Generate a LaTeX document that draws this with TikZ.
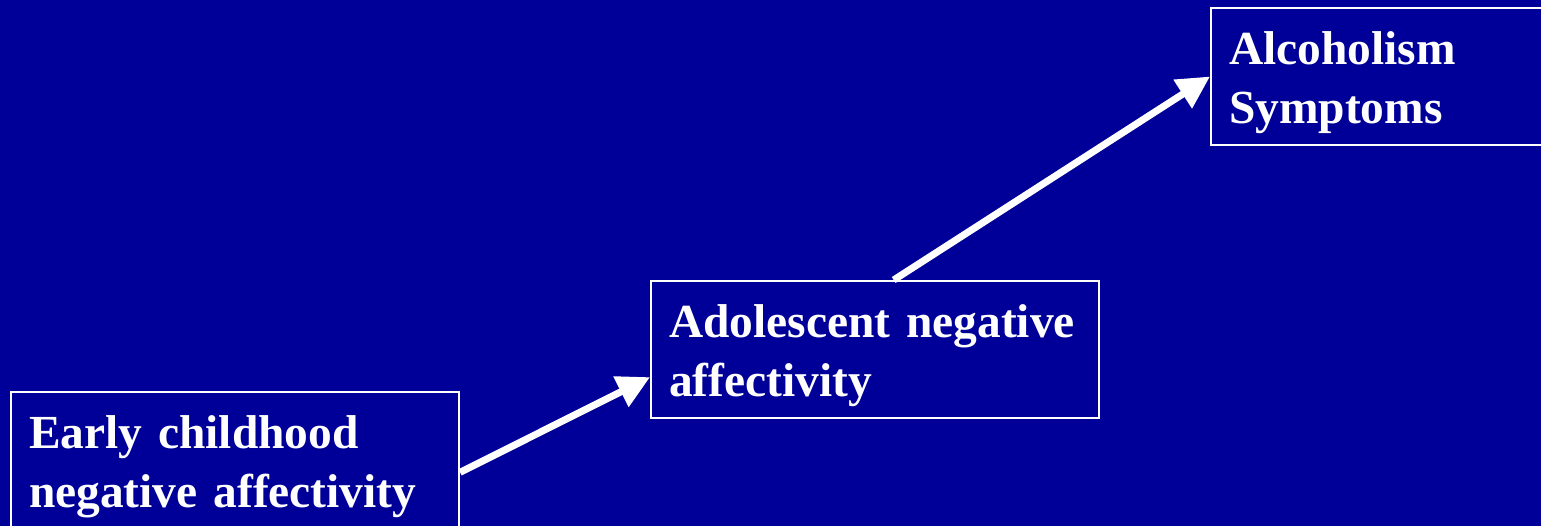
\documentclass[tikz,border=0pt]{standalone}
\usepackage{fontspec}
\setmainfont{Liberation Serif}
\usepackage{xcolor}
\usetikzlibrary{arrows.meta}
\definecolor{cback}{HTML}{000099}

\begin{document}
\begin{tikzpicture}[>=stealth,
    box/.style={draw=white,line width=1.2pt,anchor=north west,text=white,
      minimum width=8.96cm,minimum height=2.74cm,text width=8.24cm,inner xsep=0.36cm,
      align=left,font=\bfseries\fontsize{27}{33.6}\selectfont,
      execute at begin node={\rule{0pt}{0.9cm}}},
    flow/.style={white,line width=4pt,-{Triangle[length=0.65cm,width=0.65cm]}}]
  \useasboundingbox (0,0) rectangle (30.82,10.52);
  \clip (0,0) rectangle (30.82,10.52);
  \fill[cback] (0,0) rectangle (30.82,10.52);
  \node[box] (early) at (0.2,2.7) {Early childhood\\negative affectivity};
  \node[box] (adol) at (13.0,4.92) {Adolescent negative\\affectivity};
  \node[box] (alcohol) at (24.2,10.38) {Alcoholism\\Symptoms};
  \draw[flow] (early.-3) -- (adol.187);
  \draw[flow] (adol.75) -- (alcohol.west);
\end{tikzpicture}
\end{document}
